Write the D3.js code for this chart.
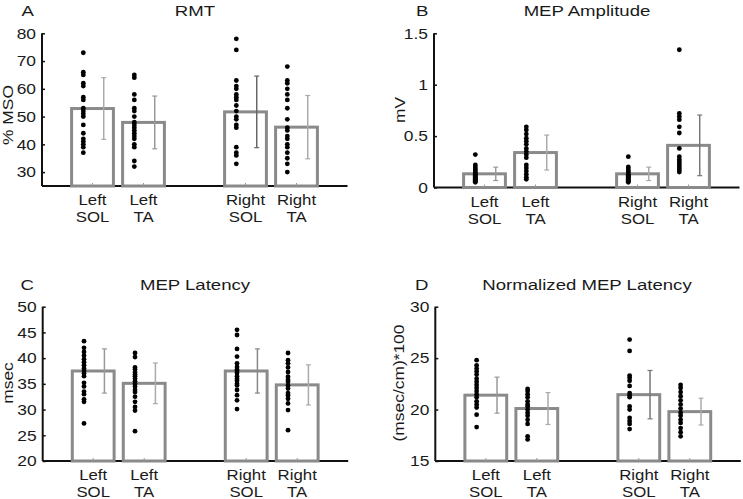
<!DOCTYPE html>
<html><head><meta charset="utf-8">
<script src="https://cdn.jsdelivr.net/npm/d3@7"></script>
<style>body{margin:0;background:#fff}svg{display:block}text{font-family:"Liberation Sans",Arial,sans-serif;fill:#1a1a1a}</style>
</head><body><svg id="c" width="743" height="499"></svg>
<script>
const categories = [["Left","SOL"],["Left","TA"],["Right","SOL"],["Right","TA"]];
const catPos = [1, 2, 4, 5];

// Panel A: RMT
const rmtMean = [52.9, 47.9, 51.7, 46.2];
const rmtSD = [11.1, 9.5, 12.9, 11.4];
const rmtPts = [
  [73, 66, 65, 62, 61, 57, 56, 53, 52, 51, 50, 47, 44, 42, 41, 40, 39, 37],
  [65, 64, 58, 56, 53, 52, 50, 48, 47, 46, 45, 44, 43, 42, 40, 39, 34, 32],
  [78, 74, 63, 61, 60, 58, 57, 56, 54, 52, 50, 49, 47, 46, 39, 37, 36, 33],
  [68, 63, 62, 60, 58, 56, 53, 49, 46, 45, 43, 42, 40, 39, 37, 35, 33, 30]
];
const rmtTicks = [30, 40, 50, 60, 70, 80];

// Panel B: MEP Amplitude
const ampMean = [0.133, 0.34, 0.133, 0.41];
const ampSD = [0.065, 0.17, 0.065, 0.295];
const ampPts = [
  [0.32, 0.22, 0.2, 0.18, 0.17, 0.15, 0.14, 0.13, 0.12, 0.11, 0.10, 0.09, 0.08, 0.07, 0.06, 0.05],
  [0.59, 0.56, 0.52, 0.48, 0.45, 0.42, 0.38, 0.35, 0.32, 0.29, 0.22, 0.19, 0.16, 0.13, 0.10, 0.08],
  [0.30, 0.20, 0.18, 0.16, 0.15, 0.13, 0.12, 0.11, 0.10, 0.09, 0.08, 0.07, 0.06, 0.05],
  [1.34, 0.72, 0.69, 0.66, 0.59, 0.53, 0.38, 0.30, 0.27, 0.25, 0.23, 0.21, 0.19, 0.17, 0.15]
];
const ampTicks = [0, 0.5, 1, 1.5];

// Panel C: MEP Latency
const latMean = [37.5, 35.1, 37.5, 34.8];
const latSD = [4.3, 3.95, 4.3, 3.9];
const latPts = [
  [43.3, 42, 41.2, 40.5, 39.8, 39.2, 38.6, 38, 37.5, 37, 36.5, 35.2, 34.5, 33.5, 33, 32, 31.5, 27.3],
  [41, 40.2, 38.2, 37.8, 37.2, 36.8, 36.5, 36, 35.5, 35, 34.5, 33.8, 33.4, 32.5, 31.5, 30.5, 29.8, 25.8],
  [45.5, 44.5, 41.8, 40.3, 39, 38.3, 37.8, 37.5, 37.1, 36.5, 36, 35.6, 35, 34.7, 33.8, 32.8, 31.8, 30.1],
  [41, 39.6, 39, 38.2, 37.3, 36.4, 35.8, 35.4, 34.7, 34.1, 33.2, 32.8, 32.1, 31.2, 29.9, 26]
];
const latTicks = [20, 25, 30, 35, 40, 45, 50];

// Panel D: Normalized MEP Latency
const normMean = [21.4, 20.1, 21.45, 19.8];
const normSD = [1.75, 1.55, 2.35, 1.3];
const normPts = [
  [24.8, 24.3, 24, 23.7, 23.4, 23, 22.7, 22.4, 22.1, 21.8, 21.5, 21.2, 20.8, 20.5, 20.2, 19.5, 18.3],
  [22, 21.8, 21.5, 21.2, 20.8, 20.5, 20.3, 20, 19.7, 19.4, 19, 18.6, 17.4, 17.1],
  [26.8, 25.7, 23.3, 23.1, 22.8, 22.3, 21.6, 21.4, 21.2, 20.3, 20, 19.2, 18.9, 18.6, 18.1],
  [22.4, 22.1, 21.7, 21.3, 20.9, 20.5, 20.1, 19.7, 19.4, 19.0, 18.7, 18.2, 17.8, 17.4]
];
const normTicks = [15, 20, 25, 30];

const svg = d3.select("#c");
const SX = 1.2; // horizontal stretch of the original lettering

function label(g, x, y, txt, size, anchor, rot) {
  const tr = rot ? `translate(${x},${y}) rotate(-90) scale(${SX},1)` : `translate(${x},${y}) scale(${SX},1)`;
  return g.append("text").attr("transform", tr).attr("text-anchor", anchor || "start")
    .attr("font-size", size).text(txt);
}

const panels = [
  {letter:"A", title:"RMT", ylab:"% MSO", mean:rmtMean, sd:rmtSD, pts:rmtPts, ticks:rmtTicks, dom:[25,80],
   ox:42, top:33.3, bot:186, tx:195, ty:16, lx:21.5, ylx:13, yly:115,
   errCol:["#aaa","#999","#666","#aaa"]},
  {letter:"B", title:"MEP Amplitude", ylab:"mV", mean:ampMean, sd:ampSD, pts:ampPts, ticks:ampTicks, dom:[0,1.5],
   ox:434, top:33.3, bot:187.5, tx:587, ty:16, lx:416, ylx:405, yly:110,
   errCol:["#999","#aaa","#aaa","#777"]},
  {letter:"C", title:"MEP Latency", ylab:"msec", mean:latMean, sd:latSD, pts:latPts, ticks:latTicks, dom:[20,50],
   ox:42.7, top:306.7, bot:461, tx:195, ty:290, lx:20.5, ylx:13, yly:383,
   errCol:["#999","#aaa","#888","#aaa"]},
  {letter:"D", title:"Normalized MEP Latency", ylab:"(msec/cm)*100", mean:normMean, sd:normSD, pts:normPts, ticks:normTicks, dom:[15,30],
   ox:435.3, top:306.7, bot:461, tx:587, ty:290, lx:415, ylx:404, yly:383,
   errCol:["#999","#aaa","#777","#aaa"]}
];

panels.forEach(p => {
  const g = svg.append("g");
  const x = d3.scaleLinear().domain([0, 6]).range([p.ox - 0.5, p.ox + 305.5]);
  const y = d3.scaleLinear().domain(p.dom).range([p.bot, p.top]);
  const unit = x(1) - x(0);
  const bw = 0.82 * unit;

  // titles
  label(g, p.tx, p.ty, p.title, 15.5, "middle");
  label(g, p.lx, p.ty, p.letter, 15.5, "start");
  label(g, p.ylx, p.yly, p.ylab, 14.5, "middle", true);

  // y axis (ticks inward)
  const yAxis = d3.axisLeft(y).tickValues(p.ticks).tickSize(-3).tickFormat("");
  const ya = g.append("g").attr("transform",`translate(${p.ox},0)`).call(yAxis);
  ya.select(".domain").attr("stroke","#111").attr("stroke-width",2).attr("d",`M0,${p.bot}V${p.top}`);
  ya.selectAll(".tick line").attr("stroke","#111").attr("stroke-width",1.5);
  // tick labels
  p.ticks.forEach(t => {
    label(g, p.ox - 6, y(t), String(t), 14.5, "end").attr("dy","0.36em");
  });

  // x axis baseline
  g.append("line").attr("x1", p.ox).attr("x2", x(6)).attr("y1", p.bot).attr("y2", p.bot)
    .attr("stroke","#111").attr("stroke-width",2);

  // bars
  g.selectAll("rect.bar").data(p.mean).join("rect").attr("class","bar")
    .attr("x",(d,i)=>x(catPos[i]) - bw/2).attr("width",bw)
    .attr("y",d=>y(d)).attr("height",d=>p.bot - y(d))
    .attr("fill","#fff").attr("stroke","#8a8a8a").attr("stroke-width",3);

  // x ticks at bar centers
  g.selectAll("line.xt").data(catPos).join("line").attr("class","xt")
    .attr("x1",d=>x(d)).attr("x2",d=>x(d)).attr("y1",p.bot).attr("y2",p.bot-3)
    .attr("stroke","#999").attr("stroke-width",1);

  // error bars
  p.mean.forEach((m,i) => {
    const ex = x(catPos[i] + 0.22);
    const col = p.errCol[i];
    const hi = y(m + p.sd[i]), lo = y(m - p.sd[i]);
    g.append("line").attr("x1",ex).attr("x2",ex).attr("y1",hi).attr("y2",lo).attr("stroke",col).attr("stroke-width",1.5);
    [hi, lo].forEach(yy => g.append("line").attr("x1",ex-2.5).attr("x2",ex+2.5).attr("y1",yy).attr("y2",yy)
      .attr("stroke",col).attr("stroke-width",1.2));
  });

  // dots
  p.pts.forEach((arr,i) => {
    g.selectAll(null).data(arr).join("circle")
      .attr("cx", x(catPos[i] - 0.18)).attr("cy", d=>y(d)).attr("r", 2.4).attr("fill","#000");
  });

  // category labels
  categories.forEach((c,i) => {
    label(g, x(catPos[i]), p.bot + 19, c[0], 14, "middle");
    label(g, x(catPos[i]), p.bot + 36, c[1], 14, "middle");
  });
});
</script></body></html>
